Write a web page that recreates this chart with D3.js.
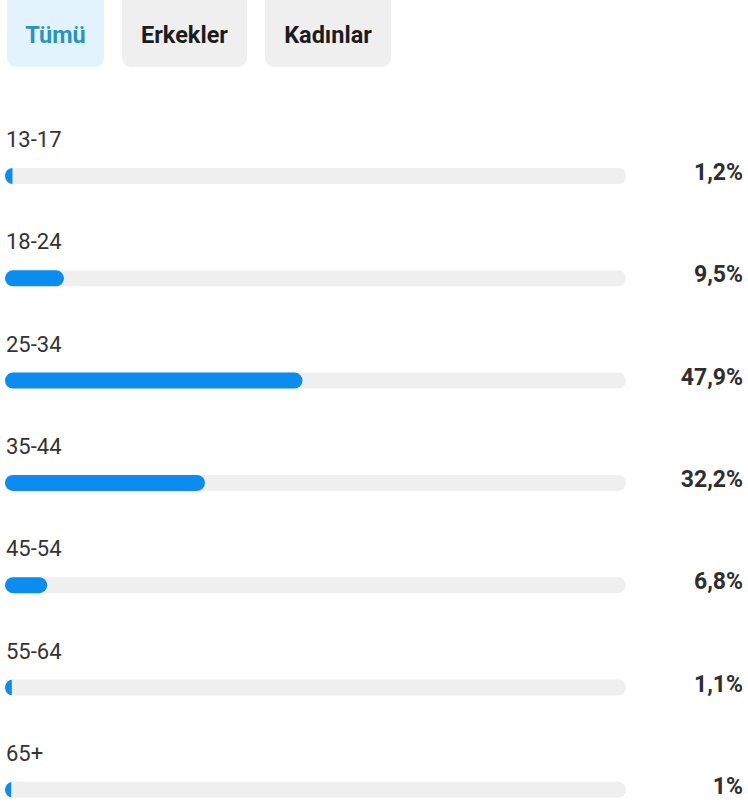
<!DOCTYPE html>
<html><head><meta charset="utf-8">
<script src="https://cdn.jsdelivr.net/npm/d3@7"></script>
<style>html,body{margin:0;padding:0;background:#fff;}svg{display:block;}</style>
</head><body>
<script>
const tabs = ["Tümü", "Erkekler", "Kadınlar"];
const categories = ["13-17", "18-24", "25-34", "35-44", "45-54", "55-64", "65+"];
const values = [1.2, 9.5, 47.9, 32.2, 6.8, 1.1, 1];
const valueLabels = ["1,2%", "9,5%", "47,9%", "32,2%", "6,8%", "1,1%", "1%"];

const W = 748, H = 803;
const svg = d3.select("body").append("svg").attr("width", W).attr("height", H);

// tabs
const tabX = [7, 122, 265], tabW = [97, 125, 126];
const tg = svg.selectAll("g.tab").data(tabs).join("g").attr("class","tab");
tg.append("rect").attr("x",(d,i)=>tabX[i]).attr("y",-10).attr("width",(d,i)=>tabW[i]).attr("height",77)
  .attr("rx",9).attr("fill",(d,i)=>i===0?"#e2f3fd":"#efefef");
tg.append("text").attr("x",(d,i)=>tabX[i]+tabW[i]/2).attr("y",43).attr("text-anchor","middle")
  .attr("font-family","Roboto, sans-serif").attr("font-weight","bold").attr("font-size",23.5)
  .attr("fill",(d,i)=>i===0?"#2a93c2":"#1c1c1c").text(d=>d);

// rows
const y = d3.scaleBand().domain(categories).range([115, 115 + 102.3*7]);
const x = d3.scaleLinear().domain([0, 100]).range([5, 626]);
const barH = 16;
const trackOff = 53;

const rows = svg.selectAll("g.row").data(categories).join("g").attr("class","row")
  .attr("transform", d => `translate(0,${y(d)})`);

rows.append("text").attr("x",6).attr("y",32).attr("font-family","Roboto, sans-serif")
  .attr("font-size",22).attr("fill","#333").text(d=>d);

rows.append("rect").attr("x",x(0)).attr("y",trackOff).attr("width",x(100)-x(0)).attr("height",barH)
  .attr("rx",8).attr("fill","#efefef");

// clip bars so that small bars show a half-rounded nub
rows.each(function(d,i){
  const g = d3.select(this);
  const w = x(values[i]) - x(0);
  const id = "clip"+i;
  g.append("clipPath").attr("id",id).append("rect").attr("x",x(0)).attr("y",trackOff)
    .attr("width",w).attr("height",barH);
  g.append("rect").attr("x",x(0)).attr("y",trackOff).attr("width",Math.max(w,barH)).attr("height",barH)
    .attr("rx",8).attr("fill","#0a8cf0").attr("clip-path", w<barH? `url(#${id})`:null);
});

rows.append("text").attr("x",743).attr("y",65).attr("text-anchor","end")
  .attr("font-family","Roboto, sans-serif").attr("font-weight","bold").attr("font-size",23)
  .attr("fill","#2e2e2e").text((d,i)=>valueLabels[i]);
</script>
</body></html>
